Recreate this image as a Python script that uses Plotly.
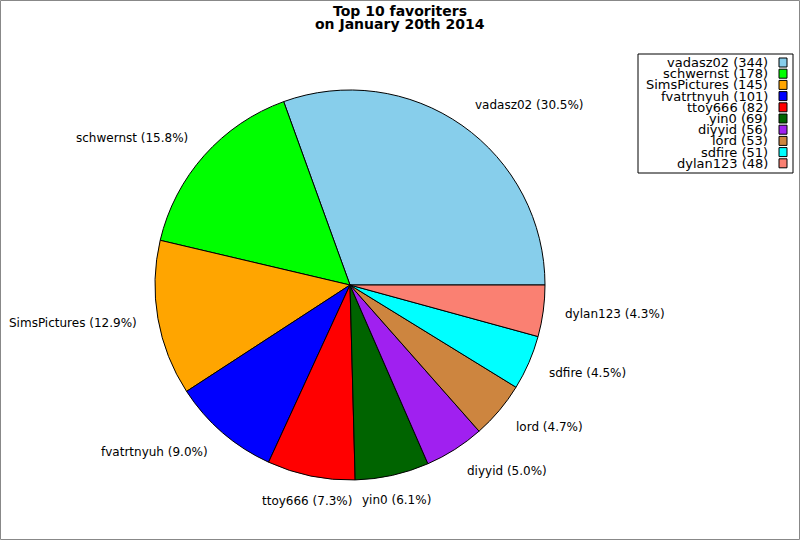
import numpy as np
import plotly.graph_objects as go

# ---- data ----
names = ["vadasz02", "schwernst", "SimsPictures", "fvatrtnyuh", "ttoy666",
         "yin0", "diyyid", "lord", "sdfire", "dylan123"]
counts = [344, 178, 145, 101, 82, 69, 56, 53, 51, 48]
colors = ["#87CEEB", "#00FF00", "#FFA500", "#0000FF", "#FF0000",
          "#006400", "#A020F0", "#CD853F", "#00FFFF", "#FA8072"]
title_lines = ["Top 10 favoriters", "on January 20th 2014"]

W, H = 800, 540
FONT = "DejaVu Sans"

# pie geometry (pixels)
cx, cy, r = 350.0, 285.0, 195.0

total = float(sum(counts))
fracs = np.array(counts) / total

# plotly's counterclockwise mode ends the first slice at `rotation`;
# we want the first slice to start at 3 o'clock going counterclockwise.
rot = 90 - 360 * fracs[0]

fig = go.Figure(go.Pie(
    labels=names, values=counts, sort=False,
    direction="counterclockwise", rotation=rot,
    marker=dict(colors=colors, line=dict(color="black", width=1)),
    textinfo="none", hoverinfo="label+value+percent",
    showlegend=False,
    domain=dict(x=[(cx - r) / W, (cx + r) / W],
                y=[1 - (cy + r) / H, 1 - (cy - r) / H]),
))

annotations = []
shapes = []

# slice labels
cum = np.concatenate([[0], np.cumsum(fracs)[:-1]])
mids = (cum + fracs / 2) * 2 * np.pi
lr = 1.1 * r
for name, f, a in zip(names, fracs, mids):
    c, s = np.cos(a), np.sin(a)
    xa = "left" if c > 0.3 else ("right" if c < -0.3 else "center")
    annotations.append(dict(
        x=(cx + lr * c) / W, y=1 - (cy - lr * s) / H,
        xref="paper", yref="paper", showarrow=False,
        text=f"{name} ({f * 100:.1f}%)", xanchor=xa, yanchor="middle",
        yshift=6 * s, font=dict(family=FONT, size=12, color="black")))

# title
for i, t in enumerate(title_lines):
    annotations.append(dict(
        x=0.5, y=1 - (10.5 + 13.5 * i) / H, xref="paper", yref="paper",
        showarrow=False, text=f"<b>{t}</b>", xanchor="center", yanchor="middle",
        font=dict(family=FONT, size=14, color="black")))

# custom legend (text right-aligned, swatch on right)
lx0, lx1, ly0, ly1 = 638, 793, 54, 173
shapes.append(dict(type="rect", xref="paper", yref="paper",
                   x0=lx0 / W, x1=lx1 / W, y0=1 - ly1 / H, y1=1 - ly0 / H,
                   line=dict(color="black", width=1), fillcolor="white", layer="below"))
row0, step = 62.5, 11.2
for i, (name, v, col) in enumerate(zip(names, counts, colors)):
    yy = row0 + step * i
    annotations.append(dict(
        x=770 / W, y=1 - yy / H, xref="paper", yref="paper", showarrow=False,
        text=f"{name} ({v})", xanchor="right", yanchor="middle",
        font=dict(family=FONT, size=13, color="black")))
    shapes.append(dict(type="rect", xref="paper", yref="paper",
                       x0=779 / W, x1=787 / W, y0=1 - (yy + 4.5) / H, y1=1 - (yy - 4.5) / H,
                       line=dict(color="black", width=1), fillcolor=col, layer="above"))

# outer border
shapes.append(dict(type="rect", xref="paper", yref="paper",
                   x0=0.5 / W, x1=1 - 0.5 / W, y0=0.5 / H, y1=1 - 0.5 / H,
                   line=dict(color="#888888", width=1), layer="above"))

fig.update_layout(
    width=W, height=H, margin=dict(l=0, r=0, t=0, b=0),
    paper_bgcolor="white", plot_bgcolor="white",
    annotations=annotations, shapes=shapes, showlegend=False,
    font=dict(family=FONT),
)
fig.write_html("out.html", config={"displayModeBar": False},
               post_script="document.body.style.margin='0';document.body.style.overflow='hidden';")
